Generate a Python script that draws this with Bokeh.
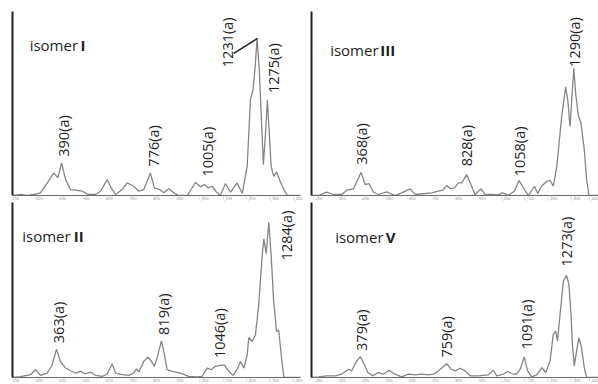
from bokeh.plotting import figure
from bokeh.layouts import gridplot
from bokeh.models import FixedTicker, Range1d
from bokeh.core.properties import value
from bokeh.embed import file_html
from bokeh.resources import INLINE
import math

# ---------------- data (wavenumber, intensity) ----------------
wn_I = [187, 221, 250, 278, 306, 335, 363, 380, 396, 413, 434, 455, 484, 508, 540, 562, 590, 607, 626, 654,
        675, 703, 725, 746, 774, 791, 814, 831, 852, 874, 895, 931, 966, 987, 1004, 1018, 1037, 1058, 1072,
        1094, 1115, 1143, 1165, 1186, 1200, 1211, 1220, 1228, 1237, 1245, 1255, 1264, 1272, 1280, 1288, 1299,
        1311, 1328, 1342, 1356, 1413]
int_I = [0, 1, 0, 1, 2.7, 12.7, 22.7, 17.7, 32.7, 16, 6, 5.3, 4.3, 1, 1, 4.3, 16, 7.7, 1, 6,
         12.7, 9.3, 4.3, 6, 22.7, 7.7, 6, 2.7, 6.7, 2.7, 0, 0, 13.3, 8.7, 11, 7.7, 9.3, 2.7, 0,
         12, 3.3, 12.7, 2, 29.3, 96, 106.7, 129.3, 157.7, 129, 86, 31, 62.7, 96, 62.7, 29.3, 19.3,
         23.7, 13.3, 6, 0, 0]

wn_III = [168, 198, 233, 262, 298, 319, 348, 381, 398, 415, 434, 455, 491, 527, 555, 591, 613, 656, 684, 713,
          731, 748, 763, 782, 799, 813, 834, 849, 870, 896, 913, 942, 970, 988, 1013, 1039, 1059, 1078, 1099,
          1125, 1139, 1156, 1178, 1192, 1206, 1221, 1242, 1259, 1268, 1278, 1285, 1294, 1302, 1313, 1325,
          1339, 1349, 1359, 1400]
int_III = [0, 0, 3.3, 1, 1, 5.3, 6.7, 23.3, 11, 12, 3.3, 1, 3.7, 0, 2.7, 6.7, 1, 2, 2.7, 4.3,
           5.3, 10, 7, 7.7, 12.7, 12.7, 21, 12.7, 1, 6.7, 1, 1, 0.7, 2.7, 0.3, 4.3, 15, 7.7, 0,
           9.3, 2, 9.3, 14.3, 15.3, 9.3, 29.3, 79.3, 109.3, 96, 69.3, 96, 127.7, 102.7, 81, 72.7,
           46, 16, 0, 0]

wn_II = [187, 221, 264, 285, 306, 335, 356, 374, 391, 413, 434, 455, 477, 498, 519, 540, 569, 590, 611, 626,
         654, 682, 703, 715, 725, 746, 763, 777, 791, 806, 821, 834, 845, 867, 902, 937, 973, 994, 1016,
         1033, 1051, 1072, 1089, 1108, 1126, 1143, 1157, 1172, 1186, 1193, 1207, 1221, 1235, 1250, 1257,
         1267, 1278, 1288, 1299, 1311, 1320, 1331, 1342, 1413]
int_II = [0, 0.8, 2.8, 7.8, 2.2, 4.5, 12.8, 28.5, 16.2, 9.5, 6.8, 4.5, 6.2, 3.5, 5.5, 2.2, 1.2, 3.5, 13.5, 4.5,
          2.8, 2.2, 4.5, 8.8, 5.5, 16.2, 20.5, 16.8, 11.2, 22.8, 36.8, 22.8, 7.8, 6.2, 4.5, 1.2, 0.5, 1.2, 9.5,
          7.8, 11.2, 12.2, 12.8, 6.2, 2.2, 7.8, 16.2, 9.5, 22.8, 40.2, 36.2, 42.8, 72.8, 122.8, 139.5,
          124.5, 156.2, 122.8, 76.2, 46.2, 47.8, 22.8, 0, 0]

wn_V = [168, 198, 233, 270, 298, 327, 341, 358, 377, 391, 410, 430, 455, 477, 501, 527, 555, 584, 613, 641,
        670, 691, 713, 730, 749, 767, 785, 806, 827, 849, 885, 927, 949, 963, 992, 1010, 1027, 1049, 1064,
        1081, 1096, 1113, 1135, 1157, 1174, 1192, 1206, 1216, 1224, 1235, 1249, 1263, 1273, 1282, 1288,
        1296, 1306, 1316, 1327, 1339, 1349, 1400]
int_V = [0, 0.7, 1.7, 1.7, 3.3, 8.3, 6.7, 15, 21, 15, 5, 1.7, 5, 3.3, 7.3, 3.3, 0.7, 3.3, 2.7, 3.3,
         2.7, 3.3, 6.7, 10, 14, 8.3, 6.7, 9.3, 6.7, 1.7, 1.7, 2.7, 7.3, 1.7, 3.3, 6, 4, 3.3, 8.3,
         20.7, 6.7, 0.7, 2.7, 10, 5, 16.7, 43.3, 46.7, 36.7, 63.3, 96.7, 102.7, 93.3, 63.3, 33.3,
         11.7, 26.7, 40, 30, 10, 0, 0]

# peak labels
lab_I = ["390(a)", "776(a)", "1005(a)", "1231(a)", "1275(a)"]
lab_III = ["368(a)", "828(a)", "1058(a)", "1290(a)"]
lab_II = ["363(a)", "819(a)", "1046(a)", "1284(a)"]
lab_V = ["379(a)", "759(a)", "1091(a)", "1273(a)"]

tick_vals = [200, 300, 400, 500, 600, 700, 800, 900, 1000, 1100, 1200, 1300, 1400]
tick_labels = ["200", "300", "400", "500", "600", "700", "800", "900",
               "1,000", "1,100", "1,200", "1,300", "1,400"]

FONT = "Open Sans"
CURVE = "#858585"
TXT = "#1e1e1e"


def panel(wn, inten, xr, ytop, w, h, bl, br, bt, bb, labels, lx, ly, tx, tbx, ty, tname, tbold):
    p = figure(width=w, height=h, x_range=Range1d(*xr), y_range=Range1d(0, ytop),
               output_backend="svg", toolbar_location=None,
               min_border=0, min_border_left=bl, min_border_right=br,
               min_border_top=bt, min_border_bottom=bb)
    p.grid.visible = False
    p.outline_line_color = None
    # x axis
    xa = p.xaxis[0]
    xa.ticker = FixedTicker(ticks=tick_vals, minor_ticks=[])
    xa.major_label_overrides = dict(zip(tick_vals, tick_labels))
    xa.major_label_text_font = FONT
    xa.major_label_text_font_size = "4px"
    xa.major_label_text_color = "#8a8a8a"
    xa.major_label_standoff = 0
    xa.major_tick_in = 0
    xa.major_tick_out = 1
    xa.major_tick_line_color = "#999999"
    xa.axis_line_color = "#6a6a6a"
    xa.axis_line_width = 1.2
    # y axis: bare black line
    ya = p.yaxis[0]
    ya.ticker = FixedTicker(ticks=[], minor_ticks=[])
    ya.major_tick_in = 0
    ya.major_tick_out = 0
    ya.major_label_standoff = 0
    ya.major_label_text_font_size = "0px"
    ya.axis_line_color = "#222222"
    ya.axis_line_width = 2

    p.line(wn, inten, line_color=CURVE, line_width=1.3)

    p.text(x=lx, y=ly, text=labels, angle=math.pi / 2, text_align="left",
           text_baseline="middle", text_font=value(FONT), text_font_size="14.5px",
           text_color=TXT)
    p.text(x=[tx], y=[ty], text=[tname], text_align="left", text_baseline="alphabetic",
           text_font=value(FONT), text_font_size="15px", text_color=TXT)
    p.text(x=[tbx], y=[ty], text=[tbold], text_align="left", text_baseline="alphabetic",
           text_font=value(FONT), text_font_size="15px", text_font_style="bold",
           text_color=TXT)
    return p


XL = (187, 1413)
XR = (168, 1400)

# top row: frame y 11..196 ; bottom row: frame y 202..378
p1 = panel(wn_I, int_I, XL, 185, 305, 202, 12, 5, 11, 6, lab_I,
           [404, 789, 1016, 1101, 1298], [39, 29, 19, 129, 103],
           260, 477, 151, "isomer", "I")
# leader line for 1231(a)
p1.line([1129, 1230], [143, 158], line_color=TXT, line_width=1.5)

p2 = panel(wn_III, int_III, XR, 185, 293, 202, 6, 0, 11, 6, lab_III,
           [381, 834, 1059, 1297], [31, 29.3, 19.3, 129.3],
           248, 463, 146, "isomer", "III")

p3 = panel(wn_II, int_II, XL, 176, 305, 182, 12, 5, 0, 6, lab_II,
           [381, 828, 1068, 1353], [34.5, 42.8, 19.5, 117.8],
           228.5, 448, 142.8, "isomer", "II")

p4 = panel(wn_V, int_V, XR, 176, 293, 182, 6, 0, 0, 6, lab_V,
           [382, 749, 1089, 1261], [26.7, 20, 28.3, 111.7],
           269.5, 487, 141.7, "isomer", "V")

grid = gridplot([[p1, p2], [p3, p4]], toolbar_location=None)

open("out.html", "w").write(file_html(grid, INLINE))
